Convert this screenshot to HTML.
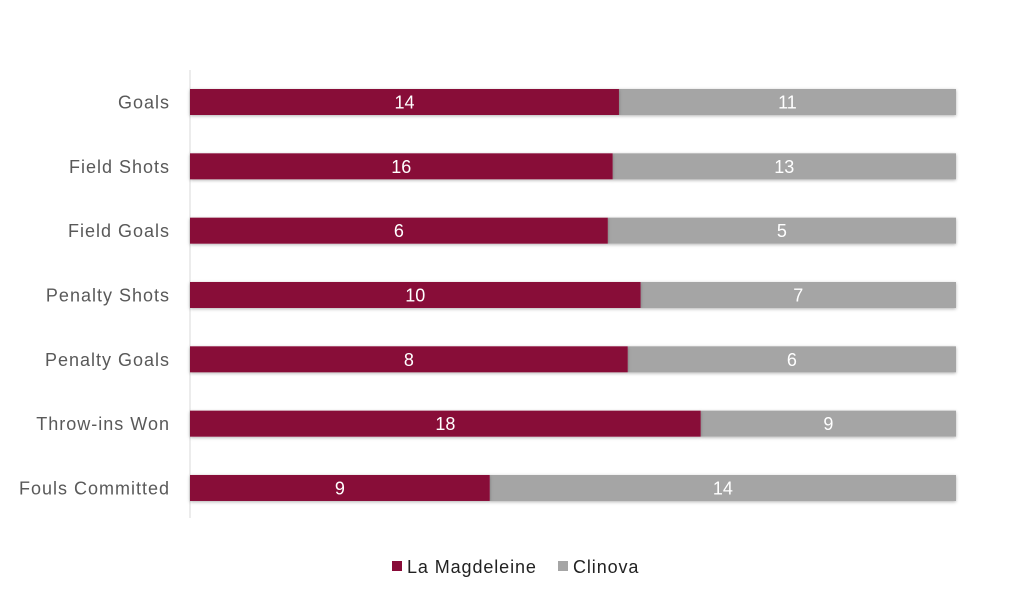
<!DOCTYPE html>
<html><head><meta charset="utf-8"><style>body{margin:0;background:#fff}svg{display:block}</style></head>
<body>
<svg width="1024" height="606" xmlns="http://www.w3.org/2000/svg" font-family="Liberation Sans, sans-serif">
<defs><filter id="s" x="-5%" y="-50%" width="110%" height="200%"><feDropShadow dx="0" dy="1" stdDeviation="1.5" flood-color="#000" flood-opacity="0.3"/></filter></defs>
<line x1="190" y1="70" x2="190" y2="518" stroke="#d9d9d9" stroke-width="1"/>
<g id="bars" font-size="18" fill="#fff" text-anchor="middle"></g>
<g id="labels" font-size="18" fill="#595959" text-anchor="end" letter-spacing="1"></g>
<rect x="392" y="561" width="10" height="10" fill="#880b38"/>
<text x="407" y="573" font-size="18" fill="#222" letter-spacing="0.9">La Magdeleine</text>
<rect x="558" y="561" width="10" height="10" fill="#a5a5a5"/>
<text x="573" y="573" font-size="18" fill="#222" letter-spacing="0.9">Clinova</text>
<script>
var d=[["Goals",14,11],["Field Shots",16,13],["Field Goals",6,5],["Penalty Shots",10,7],["Penalty Goals",8,6],["Throw-ins Won",18,9],["Fouls Committed",9,14]];
var ns="http://www.w3.org/2000/svg",b=document.getElementById("bars"),l=document.getElementById("labels");
function el(t,a,p,txt){var e=document.createElementNS(ns,t);for(var k in a)e.setAttribute(k,a[k]);if(txt!=null)e.textContent=txt;p.appendChild(e);return e;}
d.forEach(function(r,i){var c=102+i*64.33,x0=190,W=766,t=r[1]+r[2],w1=W*r[1]/t;
el("rect",{x:x0+w1,y:c-13,width:W-w1,height:26,fill:"#a5a5a5",filter:"url(#s)"},b);
el("rect",{x:x0,y:c-13,width:w1,height:26,fill:"#880b38",filter:"url(#s)"},b);
el("text",{x:x0+w1/2,y:c+6.5},b,r[1]);
el("text",{x:x0+w1+(W-w1)/2,y:c+6.5},b,r[2]);
el("text",{x:170,y:c+6.5},l,r[0]);});
</script>
</svg>
</body></html>
